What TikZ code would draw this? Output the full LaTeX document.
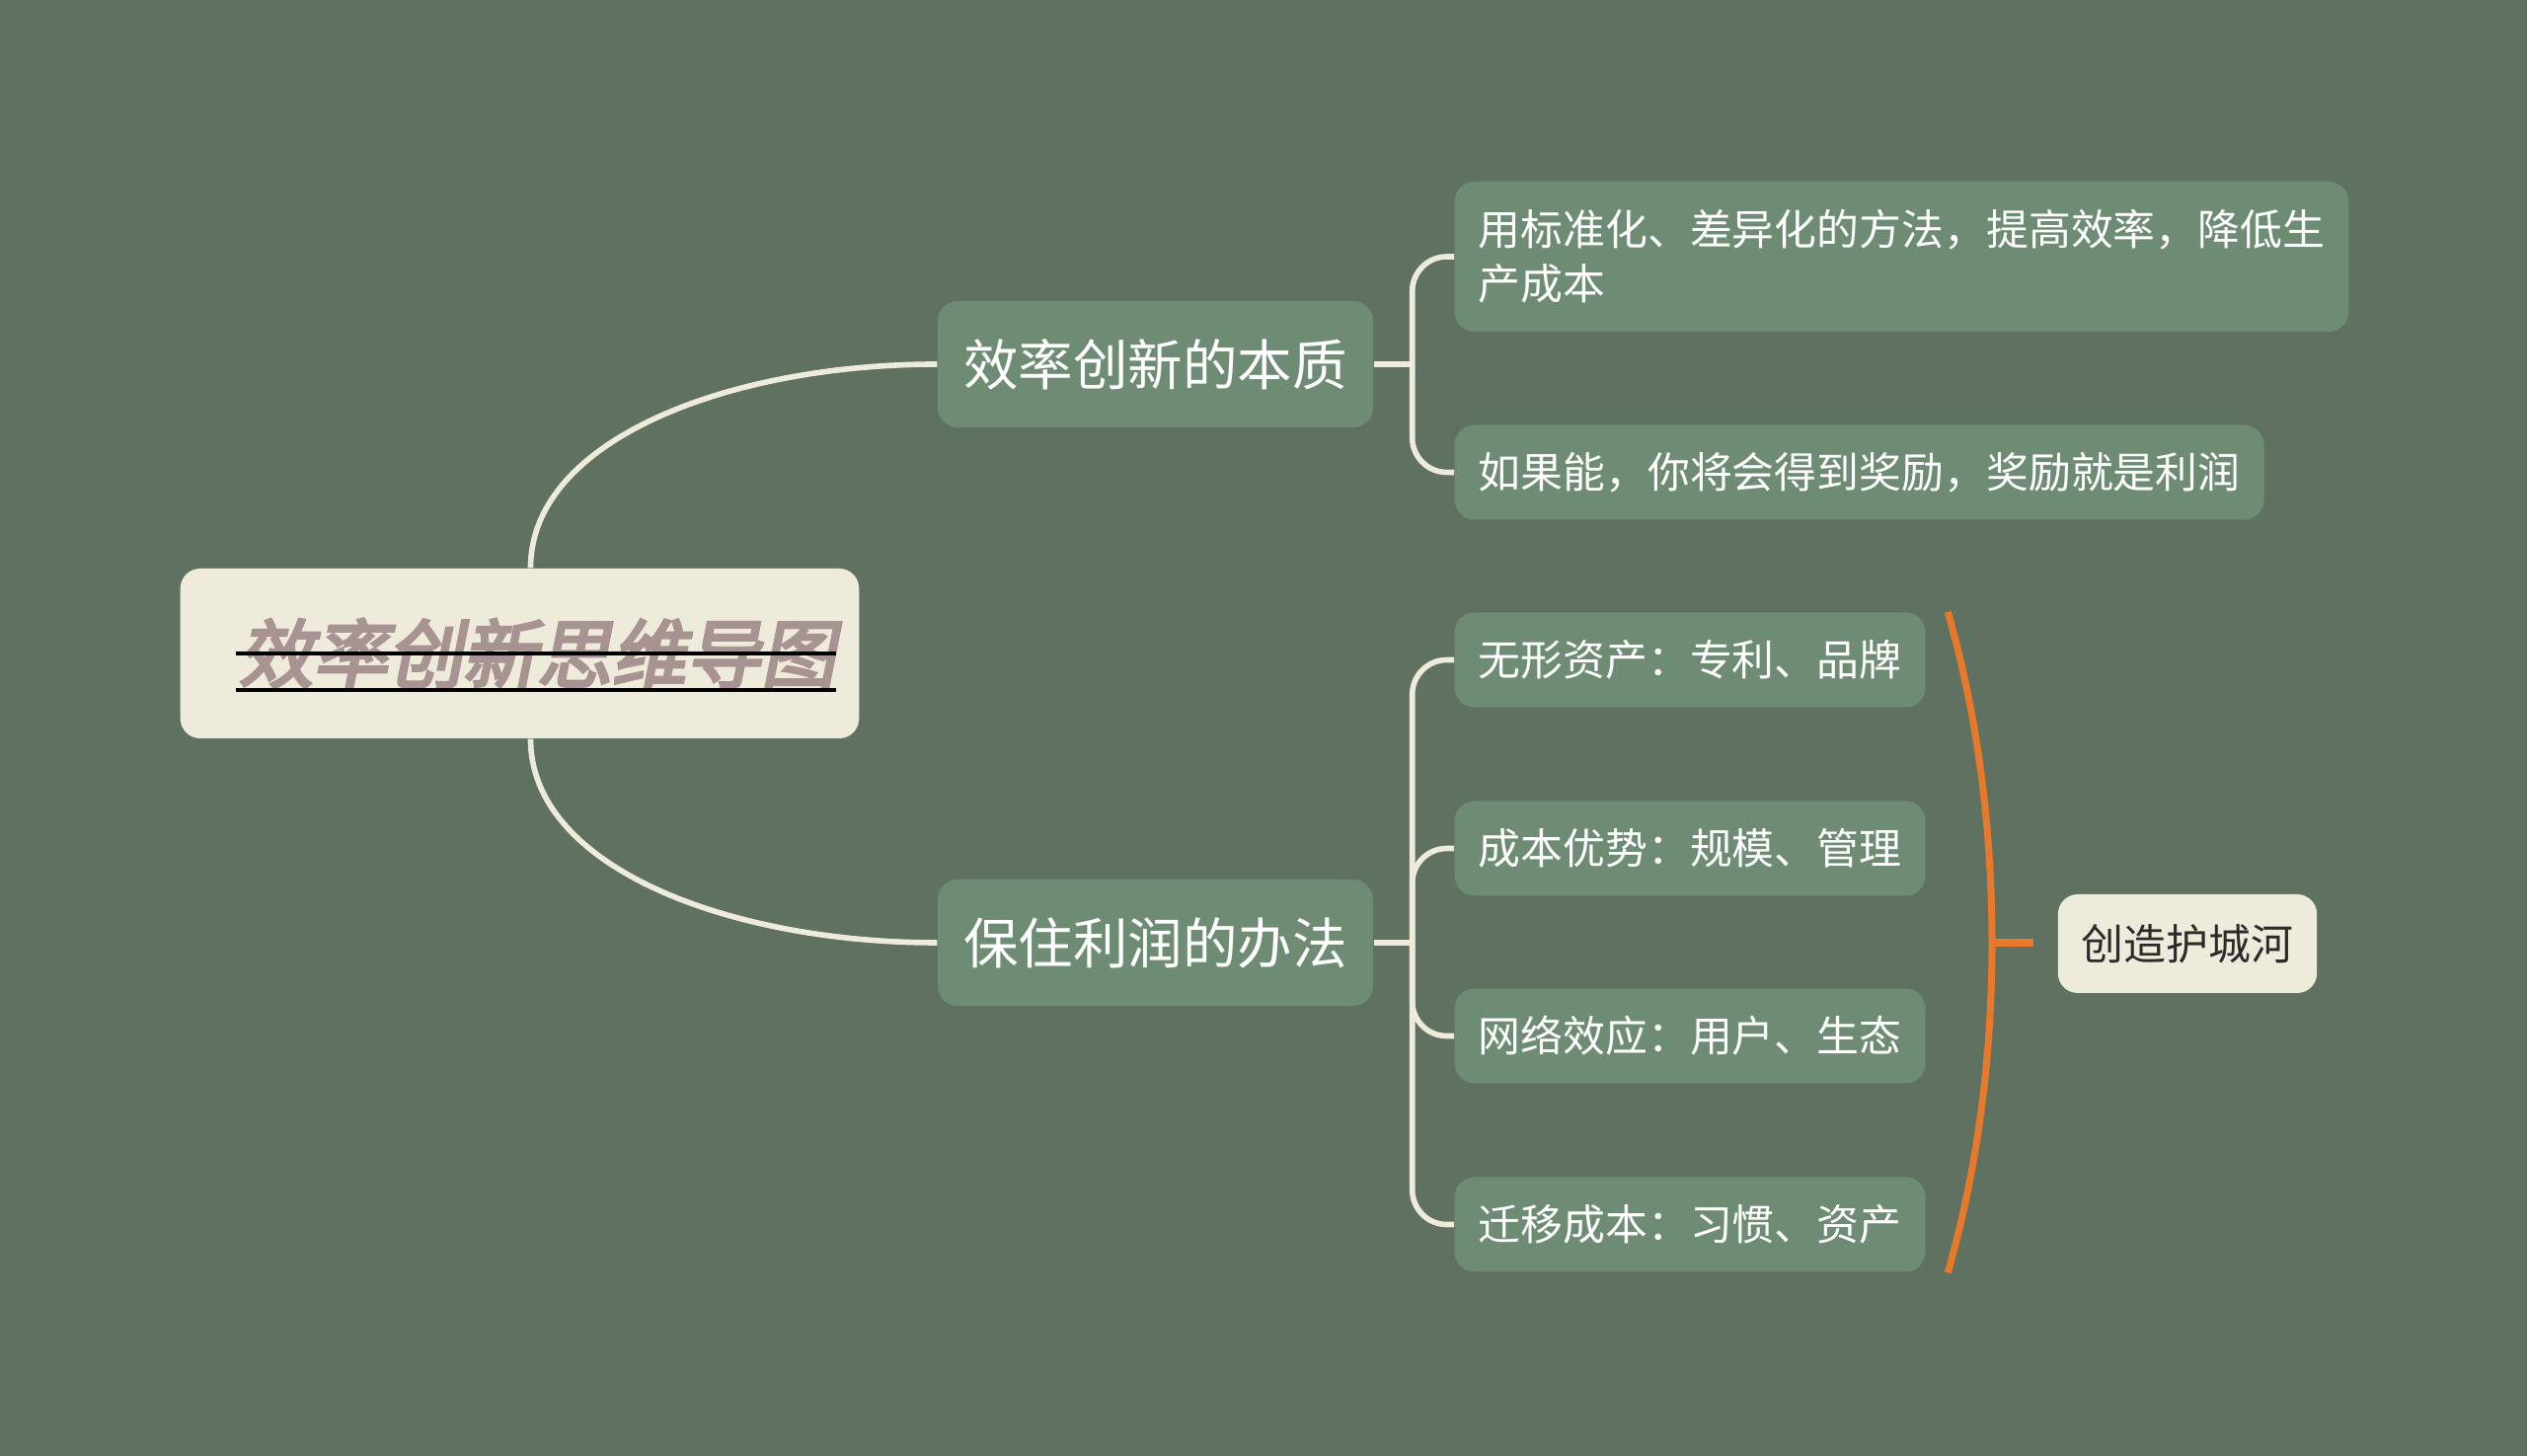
\documentclass[tikz,border=0pt]{standalone}
\usepackage{fontspec}
\setmainfont{Noto Sans CJK SC}
\newfontfamily\wurzelfont[FakeSlant=0.2,FakeBold=4]{Noto Sans CJK SC}
\usepackage{xcolor}
\usetikzlibrary{backgrounds}
\usetikzlibrary{positioning}
\definecolor{hgrund}{HTML}{5F7262}
\definecolor{astgruen}{HTML}{6E8B74}
\definecolor{creme}{HTML}{EFEBDA}
\definecolor{rosa}{HTML}{A89393}
\definecolor{orangeklammer}{HTML}{E8782A}
\definecolor{dunkel}{HTML}{2B2B2B}
\tikzset{
  Knoten/.style={rounded corners=0.2cm, inner xsep=0.24cm, inner ysep=0pt}, % für alle Kästen
  Wurzel/.style={Knoten, fill=creme, text=rosa, minimum width=6.85cm, minimum height=1.72cm,
    font=\wurzelfont\fontsize{21.5}{26}\selectfont},
  Ast/.style={Knoten, fill=astgruen, text=white, minimum width=4.41cm, minimum height=1.28cm,
    font=\fontsize{15.8}{19}\selectfont},
  Blatt/.style={Knoten, fill=astgruen, text=white, anchor=west, minimum height=0.96cm, align=left,
    font=\fontsize{12.2}{15.7}\selectfont},
  Burg/.style={Knoten, fill=creme, text=dunkel, minimum width=2.58cm, minimum height=1.0cm,
    font=\fontsize{12.2}{15.7}\selectfont},
  Linie/.style={draw=creme, line width=1.6pt}, % für Äste
  Klammer/.style={draw=orangeklammer, line width=2pt} % für die Klammer
}

\begin{document}
\begin{tikzpicture}
\fill[hgrund] (0,0) rectangle (25.6,14.75);
\useasboundingbox (0,0) rectangle (25.6,14.75);

%Knoten
\node[Wurzel] (wurzel) at (5.265,8.13) {\hspace*{0.35cm}效率创新思维导图};
\node[Ast] (wesen) at (11.705,11.06) {效率创新的本质};
\node[Ast] (gewinn) at (11.705,5.20) {保住利润的办法};

\node[Blatt, minimum height=1.52cm] (w1) at (14.73,12.15) {用标准化、差异化的方法，提高效率，降低生\\产成本};
\node[Blatt] (w2) at (14.73,9.965) {如果能，你将会得到奖励，奖励就是利润};

\node[Blatt] (g1) at (14.73,8.065) {无形资产：专利、品牌};
\node[Blatt] (g2) at (14.73,6.155) {成本优势：规模、管理};
\node[Blatt] (g3) at (14.73,4.255) {网络效应：用户、生态};
\node[Blatt] (g4) at (14.73,2.345) {迁移成本：习惯、资产};

\node[Burg] (graben) at (22.16,5.19) {创造护城河};

%Durch- und Unterstreichung
\draw[line width=1.3pt] ([xshift=-2.88cm]wurzel.center) -- ([xshift=3.2cm]wurzel.center);
\draw[line width=1.3pt] ([xshift=-2.88cm, yshift=-0.37cm]wurzel.center) -- ([xshift=3.2cm, yshift=-0.37cm]wurzel.center);

%Verbindungen
\draw[Linie] ([xshift=0.11cm]wurzel.north) .. controls +(0,1.3) and +(-2.1,0) .. (wesen.west);
\draw[Linie] ([xshift=0.11cm]wurzel.south) .. controls +(0,-1.3) and +(-2.1,0) .. (gewinn.west);

\coordinate (jw) at ([xshift=0.39cm]wesen.east);
\coordinate (jg) at ([xshift=0.39cm]gewinn.east);
\draw[Linie] (wesen.east) -- (jw);
\draw[Linie] (gewinn.east) -- (jg);
\foreach \b in {w1,w2}
  \draw[Linie, rounded corners=0.35cm] (jw) |- (\b.west);
\foreach \b in {g1,g2,g3,g4}
  \draw[Linie, rounded corners=0.35cm] (jg) |- (\b.west);

%Klammer
\coordinate (ko) at ([xshift=0.22cm]g1.north east);
\coordinate (ku) at ([xshift=0.22cm]g4.south east);
\coordinate (km) at (20.18,5.20);
\coordinate (ke) at (20.60,5.20);
\draw[Klammer] (ko) .. controls +(0.31,-1.08) and +(0,1.125) .. (km)
  .. controls +(0,-1.125) and +(0.31,1.08) .. (ku);
\draw[Klammer] (km) -- (ke);
\end{tikzpicture}
\end{document}
